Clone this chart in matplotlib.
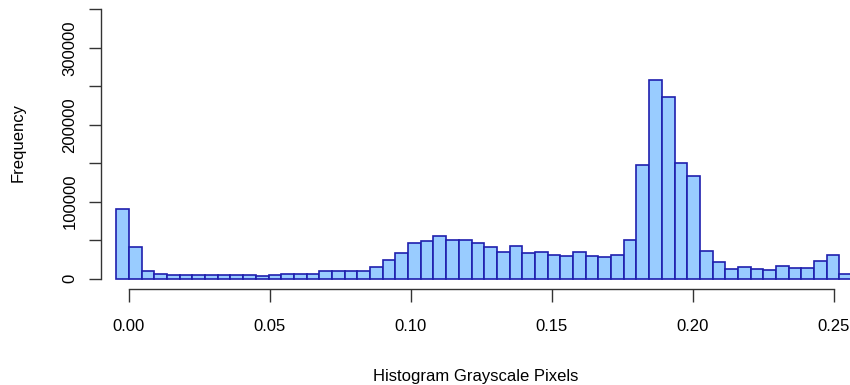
import numpy as np
import matplotlib
matplotlib.use("Agg")
import matplotlib.pyplot as plt

plt.rcParams['font.family'] = ['Liberation Sans', 'DejaVu Sans']

# histogram of grayscale pixel values, bins of width 0.0045 starting at -0.0045
bin_start = -0.0045
bin_width = 0.0045
counts = [91000, 40600, 9900, 6000, 4300, 4300, 4300, 4300, 4300, 4300,
          4300, 3900, 4300, 6500, 6500, 6500, 9900, 9900, 9900, 9900,
          15000, 24200, 32800, 46200, 48800, 55300, 50100, 50100, 45800, 40600,
          34600, 42300, 32800, 34600, 30700, 28900, 34600, 29400, 27600, 30700,
          50500, 147300, 258800, 235900, 150300, 133100, 36300, 21600, 12500, 14700,
          13000, 11200, 16400, 14300, 14300, 22900, 31100, 6000, 1700]

x_ticks = [0.00, 0.05, 0.10, 0.15, 0.20, 0.25]
x_labels = ['0.00', '0.05', '0.10', '0.15', '0.20', '0.25']
y_ticks = [0, 50000, 100000, 150000, 200000, 250000, 300000, 350000]
y_labels = ['0', '', '100000', '', '200000', '', '300000', '']

fig = plt.figure(figsize=(8.5, 3.85), dpi=100)
W, H = 850, 385
# plot region: x -0.01..0.26 -> px 100.8..862, y -14000..364000 -> px 289.3..-1.3
ax = fig.add_axes([100.8 / W, (H - 289.3) / H, (862 - 100.8) / W, 290.6 / H])

lefts = bin_start + bin_width * np.arange(len(counts))
ax.bar(lefts, counts, width=bin_width, align='edge',
       color='#99CCFF', edgecolor='#1f1fae', linewidth=1.2)

ax.set_xlim(-0.01, 0.26)
ax.set_ylim(-14000, 364000)

for s in ['top', 'right']:
    ax.spines[s].set_visible(False)
ax.spines['left'].set_bounds(0, 350000)
ax.spines['bottom'].set_bounds(0, 0.25)
for s in ['left', 'bottom']:
    ax.spines[s].set_linewidth(1.0)
    ax.spines[s].set_color('#333333')

ax.set_xticks(x_ticks)
ax.set_xticklabels(x_labels)
ax.set_yticks(y_ticks)
ax.set_yticklabels(y_labels, rotation=90, va='center')
ax.tick_params(axis='x', length=9.1, width=1.0, pad=12, labelsize=12, color='#333333')
ax.tick_params(axis='y', length=8.4, width=1.0, pad=8.5, labelsize=12, color='#333333')

fig.text(18 / W, (H - 143) / H, 'Frequency', rotation=90, ha='center', va='center', fontsize=12)
fig.text(476 / W, (H - 376) / H, 'Histogram Grayscale Pixels', ha='center', va='center', fontsize=12)

fig.savefig('out.png', dpi=100)
